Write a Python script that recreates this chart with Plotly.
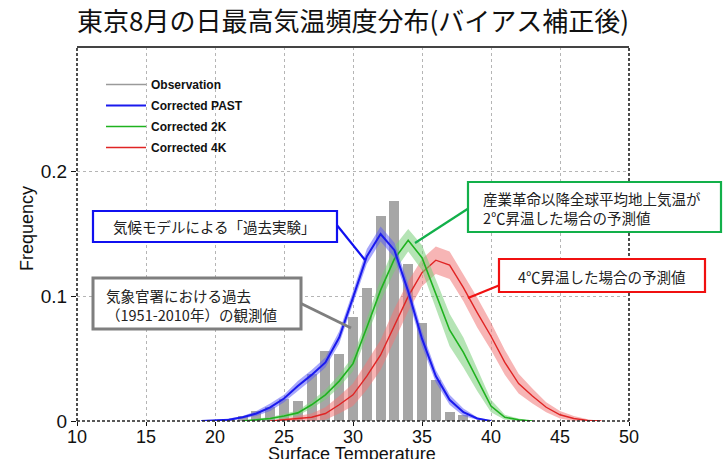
import plotly.graph_objects as go

# ---------------- data ----------------
obs_temp = [21, 22, 23, 24, 25, 26, 27, 28, 29, 30, 31, 32, 33, 34, 35, 36, 37, 38]
obs_freq = [0.002, 0.004, 0.008, 0.0115, 0.0174, 0.016, 0.0374, 0.056, 0.054,
            0.0835, 0.107, 0.1645, 0.1765, 0.126, 0.0785, 0.0325, 0.0075, 0.0045]

past_temp = list(range(19, 41))
past_freq = [0.0, 0.0005, 0.001, 0.003, 0.006, 0.011, 0.018, 0.028, 0.037, 0.047, 0.067,
             0.099, 0.132, 0.150, 0.137, 0.104, 0.066, 0.036, 0.017, 0.007, 0.002, 0.0]
past_spread = [0, 0.0005, 0.001, 0.001, 0.002, 0.003, 0.003, 0.004, 0.004, 0.004, 0.005,
               0.005, 0.006, 0.006, 0.006, 0.006, 0.006, 0.005, 0.004, 0.003, 0.001, 0]

k2_temp = list(range(22, 44))
k2_freq = [0.0, 0.001, 0.002, 0.004, 0.0065, 0.013, 0.021, 0.032, 0.046, 0.075, 0.105,
           0.130, 0.145, 0.131, 0.102, 0.073, 0.055, 0.033, 0.012, 0.003, 0.001, 0.0]
k2_spread = [0, 0.001, 0.001, 0.002, 0.002, 0.003, 0.004, 0.005, 0.006, 0.007, 0.009,
             0.010, 0.009, 0.010, 0.011, 0.013, 0.012, 0.009, 0.005, 0.002, 0.001, 0]

k4_temp = list(range(24, 49))
k4_freq = [0.0, 0.001, 0.002, 0.003, 0.006, 0.013, 0.021, 0.036, 0.053, 0.077, 0.100,
           0.119, 0.129, 0.125, 0.107, 0.087, 0.068, 0.047, 0.030, 0.020, 0.011, 0.005,
           0.002, 0.0005, 0.0]
k4_spread = [0, 0.001, 0.002, 0.003, 0.005, 0.007, 0.009, 0.011, 0.012, 0.013, 0.012,
             0.011, 0.011, 0.011, 0.011, 0.012, 0.011, 0.010, 0.008, 0.006, 0.004, 0.003,
             0.002, 0.001, 0]

legend_names = ["Observation", "Corrected PAST", "Corrected 2K", "Corrected 4K"]
x_ticks = [10, 15, 20, 25, 30, 35, 40, 45, 50]
y_ticks = [0, 0.1, 0.2]
y_tick_text = ["0", "0.1", "0.2"]

title_text = "東京8月の日最高気温頻度分布(バイアス補正後)"
note_past = "気候モデルによる「過去実験」"
note_obs = "気象官署における過去<br>（1951-2010年）の観測値"
note_2k = "産業革命以降全球平均地上気温が<br>2℃昇温した場合の予測値"
note_4k = "4℃昇温した場合の予測値"

# ---------------- layout constants ----------------
W, H = 726, 459
L, R, T, B = 77, 629, 47, 421
PW, PH = R - L, B - T


def px(xp):
    return (xp - L) / PW


def py(yp):
    return (B - yp) / PH


OBS_C = "#a6a6a6"
PAST_C = "#1a1aee"
K2_C = "#1fb21f"
K4_C = "#e02424"
PAST_BAND = "rgba(95,95,245,0.55)"
K2_BAND = "rgba(120,205,120,0.55)"
K4_BAND = "rgba(240,120,120,0.55)"

fig = go.Figure()

fig.add_trace(go.Bar(x=obs_temp, y=obs_freq, width=0.72, marker=dict(color=OBS_C, line=dict(width=0)),
                     showlegend=False, hoverinfo="skip"))


def add_series(temps, freqs, spread, color, band, name, lw, group):
    lo = [max(f - s, 0) for f, s in zip(freqs, spread)]
    hi = [f + s for f, s in zip(freqs, spread)]
    fig.add_trace(go.Scatter(x=temps, y=lo, mode="lines", line=dict(width=0, color=band),
                             showlegend=False, hoverinfo="skip"))
    fig.add_trace(go.Scatter(x=temps, y=hi, mode="lines", line=dict(width=0, color=band),
                             fill="tonexty", fillcolor=band, showlegend=False, hoverinfo="skip"))
    fig.add_trace(go.Scatter(x=temps, y=freqs, mode="lines", line=dict(width=lw, color=color),
                             name=name, legendgroup=group, legendrank=int(group) + 1))


# legend entry for observation
fig.add_trace(go.Scatter(x=[None], y=[None], mode="lines", line=dict(width=1.5, color="#9a9a9a"),
                         name=legend_names[0], legendgroup="0", legendrank=1))
add_series(k4_temp, k4_freq, k4_spread, K4_C, K4_BAND, legend_names[3], 1.4, "3")
add_series(k2_temp, k2_freq, k2_spread, K2_C, K2_BAND, legend_names[2], 1.6, "2")
add_series(past_temp, past_freq, past_spread, PAST_C, PAST_BAND, legend_names[1], 2.0, "1")

shapes = []
# frame
dash = "3px,2px"
shapes.append(dict(type="line", xref="paper", yref="paper", x0=0, x1=0, y0=0, y1=1,
                   line=dict(color="#222", width=1.6, dash=dash)))
shapes.append(dict(type="line", xref="paper", yref="paper", x0=1, x1=1, y0=0, y1=1,
                   line=dict(color="#222", width=1.6, dash=dash)))
shapes.append(dict(type="line", xref="paper", yref="paper", x0=0, x1=1, y0=0, y1=0,
                   line=dict(color="#222", width=1.6, dash=dash)))
shapes.append(dict(type="line", xref="paper", yref="paper", x0=0, x1=1, y0=1, y1=1,
                   line=dict(color="#444", width=2)))

annotations = []
NOTE_FONT = "Noto Sans CJK JP"


def callout(box, line_from, line_to, color, bw, text, tx, ty, xanchor, align):
    x0, y0, x1, y1 = box
    shapes.append(dict(type="line", xref="paper", yref="paper",
                       x0=px(line_from[0]), y0=py(line_from[1]), x1=px(line_to[0]), y1=py(line_to[1]),
                       line=dict(color=color, width=bw), layer="above"))
    shapes.append(dict(type="rect", xref="paper", yref="paper",
                       x0=px(x0), x1=px(x1), y0=py(y1), y1=py(y0),
                       line=dict(color=color, width=bw), fillcolor="white", layer="above"))
    annotations.append(dict(xref="paper", yref="paper", x=px(tx), y=py(ty), text=text,
                            showarrow=False, xanchor=xanchor, yanchor="middle", align=align,
                            font=dict(family=NOTE_FONT, size=14.5, color="#222")))


callout((93, 211, 337, 242), (336, 224), (365, 260), "#1010f0", 2.2, note_past, 214, 226.5, "center", "center")
callout((93, 278, 301, 329), (300, 303), (351, 328), "#7f7f7f", 3, note_obs, 104, 305, "left", "left")
callout((468, 182, 721, 232), (469, 208), (415, 243), "#12b04a", 2.2, note_2k, 481, 208, "left", "left")
callout((499, 259, 705, 292), (500, 285), (468, 298), "#f01010", 2.2, note_4k, 602, 276, "center", "center")

annotations.append(dict(xref="paper", yref="paper", x=px(27), y=py(229), text="Frequency",
                        textangle=-90, showarrow=False, xanchor="center", yanchor="middle",
                        font=dict(family="Liberation Sans", size=18, color="#111")))
annotations.append(dict(xref="paper", yref="paper", x=px(352), y=py(454), text="Surface Temperature",
                        showarrow=False, xanchor="center", yanchor="middle",
                        font=dict(family="Liberation Sans", size=18, color="#111")))

fig.update_layout(
    width=W, height=H,
    margin=dict(l=L, r=W - R, t=T, b=H - B, autoexpand=False),
    paper_bgcolor="white", plot_bgcolor="white",
    title=dict(text=title_text, x=L / W, xanchor="left", xref="container",
               y=1 - 22 / H, yanchor="middle", yref="container",
               font=dict(family="Noto Sans CJK JP", size=26, color="#111")),
    showlegend=True,
    legend=dict(x=px(101), y=py(70), xanchor="left", yanchor="top", bgcolor="rgba(0,0,0,0)",
                font=dict(family="Liberation Sans", size=12, color="#111", weight="bold"),
                tracegroupgap=2, itemwidth=40, traceorder="grouped"),
    shapes=shapes, annotations=annotations, bargap=0,
    font=dict(family="Liberation Sans"),
)
fig.update_xaxes(range=[10, 50], tickvals=x_ticks, ticks="outside", ticklen=4, tickcolor="#111",
                 ticklabelstandoff=-5,
                 showgrid=True, gridcolor="#b5b5b5", griddash="dot", gridwidth=1, zeroline=False,
                 showline=False, tickfont=dict(family="Liberation Sans", size=18, color="#111"))
fig.update_yaxes(range=[0, 0.3], tickvals=y_ticks, ticktext=y_tick_text, ticks="outside", ticklen=5,
                 tickcolor="#111", showgrid=True, gridcolor="#b5b5b5", griddash="dot", gridwidth=1,
                 zeroline=False, showline=False,
                 tickfont=dict(family="Liberation Sans", size=19, color="#111"))

fig.write_html("out.html", config={"displayModeBar": False},
               post_script="document.body.style.margin='0px';")
